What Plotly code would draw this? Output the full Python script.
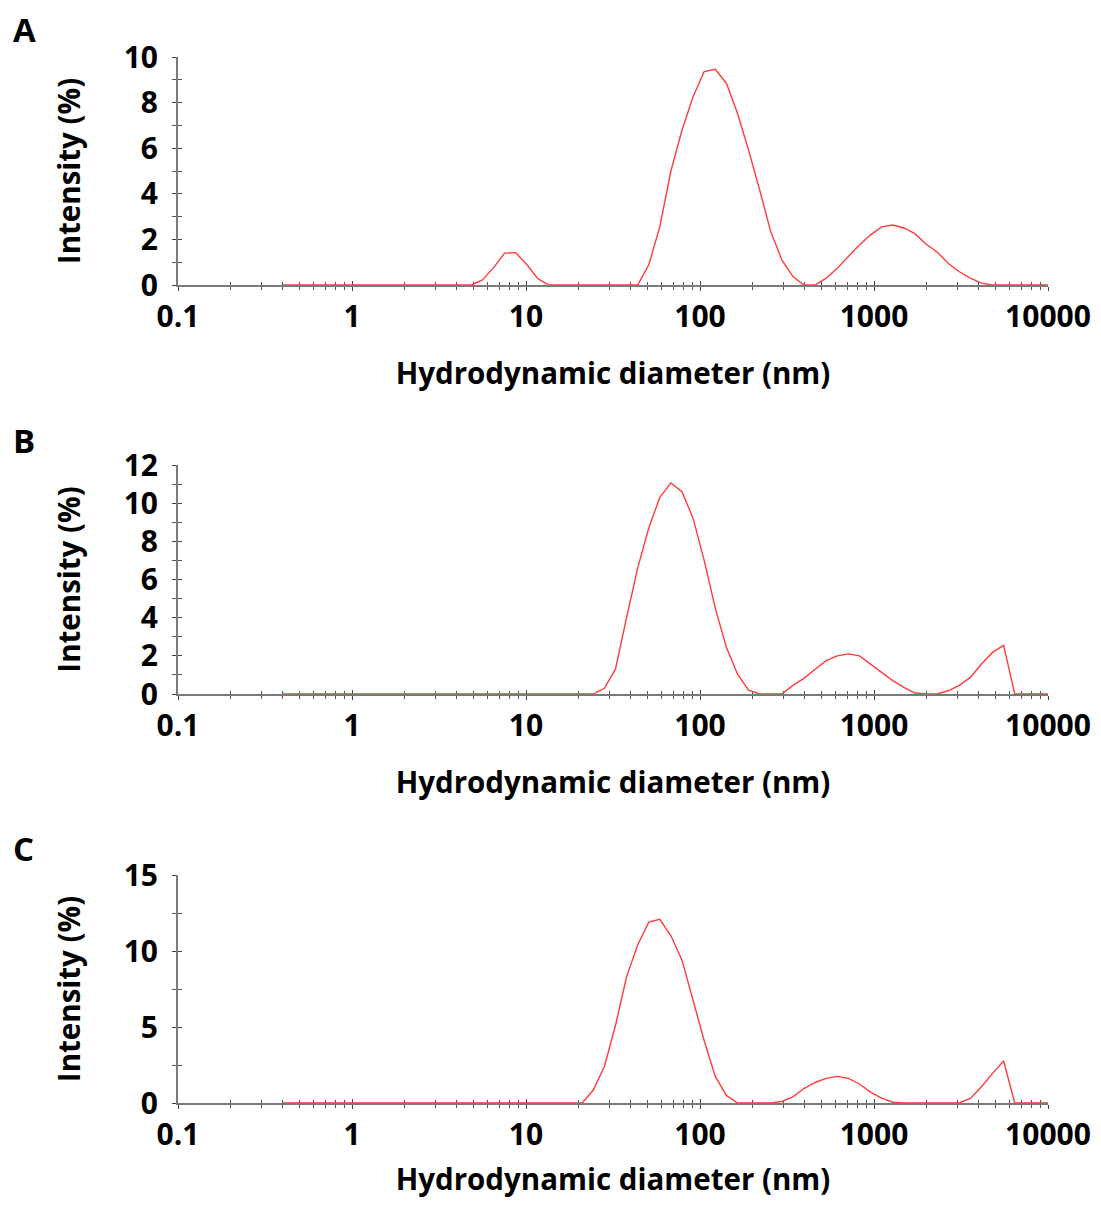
import plotly.graph_objects as go

# Size classes (nm)
diameter_nm = [0.4, 0.4632, 0.5365, 0.6213, 0.7195, 0.8332, 0.9649, 1.117, 1.294, 1.499,
               1.736, 2.01, 2.328, 2.696, 3.122, 3.615, 4.187, 4.849, 5.615, 6.503,
               7.531, 8.721, 10.1, 11.7, 13.54, 15.69, 18.17, 21.04, 24.36, 28.21,
               32.67, 37.84, 43.82, 50.75, 58.77, 68.06, 78.82, 91.28, 105.7, 122.4,
               141.8, 164.2, 190.1, 220.2, 255.0, 295.3, 342.0, 396.1, 458.7, 531.2,
               615.1, 712.4, 825.0, 955.4, 1106, 1281, 1484, 1718, 1990, 2305,
               2669, 3091, 3580, 4145, 4801, 5560, 6439, 7456, 8635, 10000]

# Intensity (%) panel A
intensity_A = [0, 0, 0, 0, 0, 0, 0, 0, 0, 0,
               0, 0, 0, 0, 0, 0, 0, 0, 0.22, 0.75,
               1.4, 1.42, 0.9, 0.28, 0, 0, 0, 0, 0, 0,
               0, 0, 0, 0.88, 2.56, 5.0, 6.8, 8.26, 9.36, 9.46,
               8.85, 7.53, 5.92, 4.17, 2.34, 1.1, 0.37, 0, 0, 0.3,
               0.73, 1.25, 1.75, 2.2, 2.55, 2.63, 2.5, 2.25, 1.8, 1.45,
               0.95, 0.58, 0.3, 0.08, 0, 0, 0, 0, 0, 0]

# Intensity (%) panel B
intensity_B = [0, 0, 0, 0, 0, 0, 0, 0, 0, 0,
               0, 0, 0, 0, 0, 0, 0, 0, 0, 0,
               0, 0, 0, 0, 0, 0, 0, 0, 0, 0.3,
               1.3, 4.0, 6.6, 8.7, 10.3, 11.06, 10.6, 9.2, 7.0, 4.5,
               2.45, 1.05, 0.2, 0, 0, 0, 0.45, 0.82, 1.3, 1.75,
               2.0, 2.1, 2.0, 1.57, 1.13, 0.7, 0.35, 0.05, 0, 0,
               0.17, 0.45, 0.87, 1.57, 2.18, 2.55, 0, 0, 0, 0]

# Intensity (%) panel C
intensity_C = [0, 0, 0, 0, 0, 0, 0, 0, 0, 0,
               0, 0, 0, 0, 0, 0, 0, 0, 0, 0,
               0, 0, 0, 0, 0, 0, 0, 0, 0.85, 2.4,
               5.1, 8.3, 10.4, 11.9, 12.08, 11.0, 9.4, 6.8, 4.1, 1.75,
               0.5, 0, 0, 0, 0, 0.1, 0.4, 0.95, 1.35, 1.62,
               1.75, 1.62, 1.25, 0.72, 0.32, 0.05, 0, 0, 0, 0,
               0, 0, 0.3, 1.07, 1.95, 2.76, 0, 0, 0, 0]

x_tickvals = [0.1, 1, 10, 100, 1000, 10000]
x_ticktext = ["0.1", "1", "10", "100", "1000", "10000"]
panel_labels = ["A", "B", "C"]
y_ranges = [[0, 10], [0, 12], [0, 15]]
y_dticks = [2, 2, 5]
y_minor = [1, 1, 2.5]

# page body has an 8 px margin; figure sized to fit the viewport
OFF = 8
W, H = 1101 - 2 * OFF, 1207 - 2 * OFF


def px_x(v):
    return (v - OFF) / W


def px_y(v):
    return 1 - (v - OFF) / H


x_dom = [px_x(178), px_x(1048)]
y_doms = [[px_y(285), px_y(57)], [px_y(694), px_y(465)], [px_y(1103), px_y(875)]]
label_y = [30, 440, 848]

FONT = "Open Sans"
TICK_SIZE = 30
TITLE_SIZE = 29.5
AX = "#7a7a7a"
series = [intensity_A, intensity_B, intensity_C]

fig = go.Figure()
layout = dict(width=W, height=H, margin=dict(l=0, r=0, t=0, b=0, autoexpand=False),
              paper_bgcolor="white", plot_bgcolor="white", showlegend=False,
              font=dict(family=FONT, size=TICK_SIZE, color="black", weight="bold"))

for i in range(3):
    n = i + 1
    o = i + 4
    xs = "" if n == 1 else str(n)
    fig.add_trace(go.Scatter(x=diameter_nm, y=series[i], mode="lines",
                             line=dict(color="#ff3b3b", width=1.4),
                             xaxis="x" + xs, yaxis="y" + xs, hoverinfo="skip"))
    # helper trace for overlay axes (inside half of crossing ticks)
    fig.add_trace(go.Scatter(x=diameter_nm[:1], y=series[i][:1], mode="lines",
                             line=dict(color="rgba(0,0,0,0)"), opacity=0,
                             xaxis="x" + str(o), yaxis="y" + str(o), hoverinfo="skip"))
    common_x = dict(type="log", range=[-1, 4], domain=x_dom, automargin=False,
                    tickvals=x_tickvals, showgrid=False, zeroline=False)
    common_y = dict(range=y_ranges[i], dtick=y_dticks[i], tick0=0, domain=y_doms[i],
                    automargin=False, showgrid=False, zeroline=False)
    layout["xaxis" + xs] = dict(common_x, anchor="y" + xs, ticktext=x_ticktext,
                                showline=True, linecolor=AX, linewidth=2,
                                ticks="outside", ticklen=4, tickcolor="#444", tickwidth=1.3,
                                ticklabelstandoff=0,
                                minor=dict(ticks="outside", dtick="D1", ticklen=3,
                                           tickcolor="#555", tickwidth=1),
                                layer="below traces",
                                tickfont=dict(family=FONT, size=TICK_SIZE, weight="bold"),
                                title=dict(text="Hydrodynamic diameter (nm)", standoff=28,
                                           font=dict(family=FONT, size=TITLE_SIZE, weight="bold")))
    layout["yaxis" + xs] = dict(common_y, anchor="x" + xs,
                                showline=True, linecolor=AX, linewidth=2,
                                ticks="outside", ticklen=4, tickcolor="#444", tickwidth=1.3,
                                ticklabelstandoff=8,
                                minor=dict(ticks="outside", dtick=y_minor[i], ticklen=4,
                                           tickcolor="#555", tickwidth=1),
                                layer="below traces",
                                tickfont=dict(family=FONT, size=TICK_SIZE, weight="bold"),
                                title=dict(text="Intensity (%)", standoff=34,
                                           font=dict(family=FONT, size=TITLE_SIZE, weight="bold")))
    layout["xaxis" + str(o)] = dict(common_x, anchor="y" + str(o), overlaying="x" + xs,
                                    showticklabels=False, showline=False,
                                    ticks="inside", ticklen=4, tickcolor="#444", tickwidth=1.3,
                                    minor=dict(ticks="inside", dtick="D1", ticklen=3,
                                               tickcolor="#555", tickwidth=1),
                                    layer="below traces")
    layout["yaxis" + str(o)] = dict(common_y, anchor="x" + str(o), overlaying="y" + xs,
                                    showticklabels=False, showline=False,
                                    ticks="inside", ticklen=4, tickcolor="#444", tickwidth=1.3,
                                    minor=dict(ticks="inside", dtick=y_minor[i], ticklen=4,
                                               tickcolor="#555", tickwidth=1),
                                    layer="below traces")

annotations = []
for i, lab in enumerate(panel_labels):
    annotations.append(dict(text=lab, x=px_x(11), y=px_y(label_y[i]), xref="paper", yref="paper",
                            xanchor="left", yanchor="middle", showarrow=False,
                            font=dict(family=FONT, size=33, weight="bold", color="black")))
layout["annotations"] = annotations

fig.update_layout(**layout)
fig.write_html("out.html")
